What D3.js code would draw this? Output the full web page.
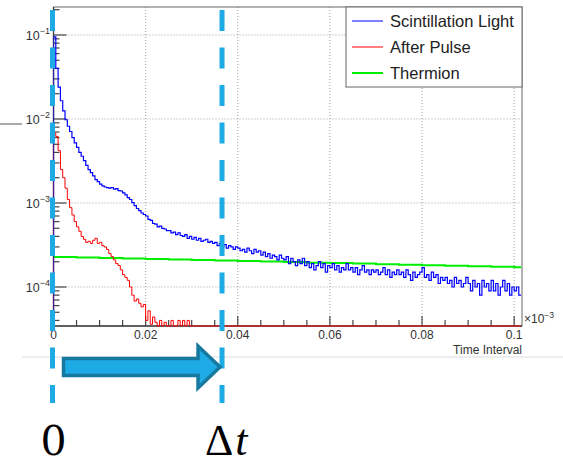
<!DOCTYPE html>
<html>
<head>
<meta charset="utf-8">
<script src="https://cdn.jsdelivr.net/npm/d3@7"></script>
<style>
  body { margin: 0; background: #fff; }
  svg { display: block; font-family: "Liberation Sans", Arial, sans-serif; }
</style>
</head>
<body>
<div id="chart"></div>
<script>
// Histogram data (bin width 0.0005, x in units of 10^-3)
const binWidth = 0.0005;

const scintillation = [
  9.5e-2, 4.0e-2, 2.4e-2, 1.65e-2, 1.25e-2, 9.8e-3, 8.2e-3, 7.1e-3, 6.0e-3, 5.2e-3,
  4.6e-3, 4.0e-3, 3.6e-3, 3.2e-3, 2.8e-3, 2.5e-3, 2.3e-3, 2.1e-3, 1.9e-3, 1.8e-3,
  1.68e-3, 1.60e-3, 1.55e-3, 1.52e-3, 1.50e-3, 1.53e-3, 1.46e-3, 1.48e-3, 1.40e-3, 1.39e-3,
  1.32e-3, 1.25e-3, 1.16e-3, 1.10e-3, 1.01e-3, 9.3e-4, 8.6e-4, 8.1e-4, 7.6e-4, 7.3e-4,
  7.0e-4, 6.4e-4, 6.2e-4, 5.7e-4, 5.6e-4, 5.2e-4, 5.3e-4, 5.0e-4, 4.9e-4, 4.7e-4,
  4.7e-4, 4.4e-4, 4.5e-4, 4.2e-4, 4.4e-4, 4.1e-4, 4.0e-4, 4.2e-4, 3.8e-4, 4.0e-4,
  3.7e-4, 3.9e-4, 3.6e-4, 3.8e-4, 3.5e-4, 3.6e-4, 3.7e-4, 3.4e-4, 3.5e-4, 3.3e-4,
  3.4e-4, 3.1e-4, 3.3e-4, 3.0e-4, 3.2e-4, 2.9e-4, 3.1e-4, 3.0e-4, 2.8e-4, 3.0e-4,
  2.9e-4, 2.7e-4, 2.8e-4, 2.6e-4, 2.9e-4, 2.7e-4, 2.5e-4, 2.8e-4, 2.6e-4, 2.7e-4,
  2.4e-4, 2.6e-4, 2.3e-4, 2.5e-4, 2.2e-4, 2.4e-4, 2.3e-4, 2.1e-4, 2.4e-4, 2.2e-4,
  2.1e-4, 2.3e-4, 1.9e-4, 2.2e-4, 2.0e-4, 1.8e-4, 2.1e-4, 1.9e-4, 2.2e-4, 1.8e-4,
  2.0e-4, 1.7e-4, 1.9e-4, 1.6e-4, 1.8e-4, 2.0e-4, 1.7e-4, 1.9e-4, 1.5e-4, 1.8e-4,
  1.7e-4, 1.9e-4, 1.6e-4, 1.8e-4, 1.5e-4, 1.7e-4, 1.6e-4, 1.9e-4, 1.6e-4, 1.7e-4,
  1.5e-4, 1.7e-4, 1.4e-4, 1.6e-4, 1.8e-4, 1.5e-4, 1.6e-4, 1.4e-4, 1.6e-4, 1.5e-4,
  1.6e-4, 1.4e-4, 1.5e-4, 1.7e-4, 1.4e-4, 1.6e-4, 1.3e-4, 1.5e-4, 1.4e-4, 1.6e-4,
  1.4e-4, 1.5e-4, 1.3e-4, 1.6e-4, 1.4e-4, 1.2e-4, 1.5e-4, 1.3e-4, 1.4e-4, 1.5e-4,
  1.7e-4, 1.3e-4, 1.4e-4, 1.2e-4, 1.5e-4, 1.3e-4, 1.4e-4, 1.1e-4, 1.3e-4, 1.2e-4,
  1.3e-4, 1.1e-4, 1.2e-4, 1.0e-4, 1.3e-4, 1.1e-4, 1.2e-4, 1.0e-4, 1.1e-4, 1.3e-4,
  1.1e-4, 9.0e-5, 1.2e-4, 1.0e-4, 1.1e-4, 8.0e-5, 1.2e-4, 1.0e-4, 1.1e-4, 9.0e-5,
  1.2e-4, 9.0e-5, 1.1e-4, 8.0e-5, 1.0e-4, 1.2e-4, 9.0e-5, 1.1e-4, 8.0e-5, 1.0e-4,
  9.0e-5, 1.0e-4, 8.0e-5
];

const afterPulse = [
  6.8e-3, 6.2e-3, 4.2e-3, 2.5e-3, 2.0e-3, 1.5e-3, 1.1e-3, 8.8e-4, 7.2e-4, 6.0e-4,
  5.2e-4, 4.6e-4, 4.0e-4, 3.7e-4, 3.4e-4, 3.5e-4, 3.3e-4, 3.6e-4, 3.8e-4, 3.3e-4,
  3.4e-4, 3.1e-4, 3.0e-4, 2.8e-4, 2.5e-4, 2.3e-4, 2.1e-4, 1.9e-4, 1.8e-4, 1.6e-4,
  1.4e-4, 1.3e-4, 1.2e-4, 1.0e-4, 8.0e-5, 6.8e-5, 7.2e-5, 6.4e-5, 5.8e-5, 6.2e-5,
  4.0e-5, 5.2e-5, 3.6e-5, 4.4e-5, 3.8e-5, 0, 4.0e-5, 0, 3.8e-5, 0,
  0, 4.0e-5, 0, 0, 4.0e-5, 0, 4.0e-5, 0, 4.0e-5, 0,
  0, 0, 0, 0, 0, 0, 0, 0, 0, 0, 0, 0, 0, 0, 0, 0, 0, 0, 0, 0,
  0, 0, 0, 0, 0, 0, 0, 0, 0, 0, 0, 0, 0, 0, 0, 0, 0, 0, 0, 0,
  0, 0, 0, 0, 0, 0, 0, 0, 0, 0, 0, 0, 0, 0, 0, 0, 0, 0, 0, 0,
  0, 0, 0, 0, 0, 0, 0, 0, 0, 0, 0, 0, 0, 0, 0, 0, 0, 0, 0, 0,
  0, 0, 0, 0, 0, 0, 0, 0, 0, 0, 0, 0, 0, 0, 0, 0, 0, 0, 0, 0,
  0, 0, 0, 0, 0, 0, 0, 0, 0, 0, 0, 0, 0, 0, 0, 0, 0, 0, 0, 0,
  0, 0, 0, 0, 0, 0, 0, 0, 0, 0, 0, 0, 0, 0, 0, 0, 0, 0, 0, 0,
  0, 0, 0
];

// thermion is smooth, coarser bins
const thermionWidth = 0.005;
const thermion = [
  2.27e-4, 2.24e-4, 2.22e-4, 2.19e-4, 2.16e-4, 2.13e-4, 2.10e-4, 2.07e-4, 2.04e-4, 2.01e-4,
  1.98e-4, 1.95e-4, 1.93e-4, 1.90e-4, 1.87e-4, 1.84e-4, 1.82e-4, 1.79e-4, 1.76e-4, 1.74e-4,
  1.72e-4
];
const thermionEnd = 0.1015;

const seriesNames = ["Scintillation Light", "After Pulse", "Thermion"];
const seriesColors = ["#0000ff", "#ff0000", "#00ee00"];

const xTicks = [0, 0.02, 0.04, 0.06, 0.08, 0.1];
const xTickLabels = ["0", "0.02", "0.04", "0.06", "0.08", "0.1"];
const yTicks = [1e-1, 1e-2, 1e-3, 1e-4];
const yTickExps = ["\u22121", "\u22122", "\u22123", "\u22124"];

// annotation: the 0 and delta-t marks
const markers = [0, 0.0368];

const width = 563, height = 469;

const svg = d3.select("#chart")
  .append("svg")
  .attr("width", width)
  .attr("height", height);

svg.append("rect").attr("width", width).attr("height", height).attr("fill", "#fff");

// slide leftovers
svg.append("line")
  .attr("x1", 0).attr("x2", 22).attr("y1", 124).attr("y2", 124)
  .attr("stroke", "#8c8c8c").attr("stroke-width", 1.5);
svg.append("line")
  .attr("x1", 22).attr("x2", width).attr("y1", 357).attr("y2", 357)
  .attr("stroke", "#dcdcdc").attr("stroke-width", 1);

// Scales
const x = d3.scaleLinear().domain([0, 0.1017]).range([53.5, 522]);
const y = d3.scaleLog().domain([3.433e-5, 0.2154]).range([326, 7]);

const [x0, x1] = x.range();
const [yB, yT] = y.range();

// Grid
const grid = svg.append("g")
  .attr("stroke", "#a0a0a0")
  .attr("stroke-dasharray", "1,2")
  .attr("stroke-width", 1);

grid.selectAll(".gx")
  .data(xTicks.filter(d => d > 0))
  .enter().append("line")
  .attr("x1", d => x(d)).attr("x2", d => x(d))
  .attr("y1", yT).attr("y2", yB);

grid.selectAll(".gy")
  .data(yTicks)
  .enter().append("line")
  .attr("x1", x0).attr("x2", x1)
  .attr("y1", d => y(d)).attr("y2", d => y(d));

// Frame
svg.append("rect")
  .attr("x", x0).attr("y", yT)
  .attr("width", x1 - x0).attr("height", yB - yT)
  .attr("fill", "none")
  .attr("stroke", "#808080")
  .attr("stroke-width", 1.2);

// Axis lines
svg.append("line")
  .attr("x1", x0).attr("x2", x0).attr("y1", yT).attr("y2", yB)
  .attr("stroke", "#444").attr("stroke-width", 1.3);
svg.append("line")
  .attr("x1", x0).attr("x2", x1).attr("y1", yB).attr("y2", yB)
  .attr("stroke", "#444").attr("stroke-width", 1.3);

// X ticks (inside, pointing up)
const xMinor = d3.range(0, 0.1016, 0.005);
svg.append("g").selectAll("line")
  .data(xMinor)
  .enter().append("line")
  .attr("x1", d => x(d)).attr("x2", d => x(d))
  .attr("y1", yB)
  .attr("y2", d => Math.abs(d / 0.02 - Math.round(d / 0.02)) < 1e-6 ? yB - 10 : yB - 6)
  .attr("stroke", "#444").attr("stroke-width", 1.2);

svg.append("g").selectAll("text")
  .data(xTicks)
  .enter().append("text")
  .attr("x", d => x(d))
  .attr("y", 339)
  .attr("text-anchor", "middle")
  .attr("font-size", 12)
  .attr("fill", "#333")
  .text((d, i) => xTickLabels[i]);

// Y ticks (log, inside)
const yMinor = [];
[1e-5, 1e-4, 1e-3, 1e-2, 1e-1].forEach(dec => {
  for (let k = 2; k <= 9; k++) {
    const v = k * dec;
    if (v > y.domain()[0] && v < y.domain()[1]) yMinor.push(v);
  }
});
svg.append("g").selectAll("line")
  .data(yMinor)
  .enter().append("line")
  .attr("x1", x0).attr("x2", x0 + 6)
  .attr("y1", d => y(d)).attr("y2", d => y(d))
  .attr("stroke", "#444").attr("stroke-width", 1.2);
svg.append("g").selectAll("line")
  .data(yTicks)
  .enter().append("line")
  .attr("x1", x0).attr("x2", x0 + 13)
  .attr("y1", d => y(d)).attr("y2", d => y(d))
  .attr("stroke", "#444").attr("stroke-width", 1.2);

const yLab = svg.append("g").selectAll("text")
  .data(yTicks)
  .enter().append("text")
  .attr("x", 50)
  .attr("y", d => y(d) + 5)
  .attr("text-anchor", "end")
  .attr("fill", "#333");
yLab.append("tspan").attr("font-size", 12.5).text("10");
yLab.append("tspan").attr("font-size", 9).attr("dy", -6).text((d, i) => yTickExps[i]);

// x10^-3 and axis title
const mult = svg.append("text")
  .attr("x", 524).attr("y", 323)
  .attr("fill", "#333");
mult.append("tspan").attr("font-size", 12).text("\u00d710");
mult.append("tspan").attr("font-size", 8.5).attr("dy", -5).text("\u22123");

svg.append("text")
  .attr("x", 522).attr("y", 354)
  .attr("text-anchor", "end")
  .attr("font-size", 12)
  .attr("fill", "#333")
  .text("Time Interval");

// Histograms
svg.append("clipPath").attr("id", "frame")
  .append("rect")
  .attr("x", x0).attr("y", yT)
  .attr("width", x1 - x0).attr("height", yB - yT + 1);

const yClamp = v => v > 0 ? y(Math.max(v, y.domain()[0])) : yB;

const stepLine = d3.line()
  .x(d => x(d[0]))
  .y(d => yClamp(d[1]))
  .curve(d3.curveStepAfter);

function histPoints(vals, w, endX, fromFloor) {
  const pts = vals.map((v, i) => [i * w, v]);
  pts.push([endX, vals[vals.length - 1]]);
  if (fromFloor) pts.unshift([0, 0]);
  return pts;
}

const plot = svg.append("g").attr("clip-path", "url(#frame)");

plot.append("path")
  .attr("d", stepLine(histPoints(thermion, thermionWidth, thermionEnd, false)))
  .attr("fill", "none")
  .attr("stroke", seriesColors[2])
  .attr("stroke-width", 2);

plot.append("path")
  .attr("d", stepLine(histPoints(afterPulse, binWidth, afterPulse.length * binWidth, true)))
  .attr("fill", "none")
  .attr("stroke", seriesColors[1])
  .attr("stroke-width", 1);

plot.append("path")
  .attr("d", stepLine(histPoints(scintillation, binWidth, scintillation.length * binWidth, true)))
  .attr("fill", "none")
  .attr("stroke", seriesColors[0])
  .attr("stroke-width", 1.2);

// Legend
const legend = svg.append("g");
legend.append("rect")
  .attr("x", 346).attr("y", 7)
  .attr("width", 176).attr("height", 80)
  .attr("fill", "#fff")
  .attr("stroke", "#666")
  .attr("stroke-width", 1);

const items = legend.selectAll(".item")
  .data(seriesNames)
  .enter().append("g")
  .attr("transform", (d, i) => `translate(0, ${21 + i * 26})`);
items.append("line")
  .attr("x1", 352).attr("x2", 383)
  .attr("stroke", (d, i) => seriesColors[i])
  .attr("stroke-width", (d, i) => i === 2 ? 2 : 1);
items.append("text")
  .attr("x", 390).attr("y", 6)
  .attr("font-size", 16.5)
  .attr("fill", "#222")
  .text(d => d);

// Annotation: dashed markers, arrow and labels
const markColor = "#1eaae4";
svg.append("g").selectAll("line")
  .data(markers)
  .enter().append("line")
  .attr("x1", d => x(d) - 1).attr("x2", d => x(d) - 1)
  .attr("y1", 10).attr("y2", 403)
  .attr("stroke", markColor)
  .attr("stroke-width", 5)
  .attr("stroke-dasharray", "21,16.5");

const ax0 = x(markers[0]) + 10, ax1 = x(markers[1]) - 3, ay = 367;
svg.append("path")
  .attr("d", `M${ax0},${ay - 8.5} H${ax1 - 22} V${ay - 21} L${ax1},${ay} L${ax1 - 22},${ay + 21} V${ay + 8.5} H${ax0} Z`)
  .attr("fill", markColor)
  .attr("stroke", "#17799f")
  .attr("stroke-width", 3.5)
  .attr("stroke-linejoin", "miter");

svg.append("text")
  .attr("x", x(markers[0]))
  .attr("y", 455)
  .attr("text-anchor", "middle")
  .attr("font-family", "'DejaVu Serif', serif")
  .attr("font-size", 41)
  .attr("fill", "#000")
  .text("0");

const dt = svg.append("text")
  .attr("x", x(markers[1]) - 18)
  .attr("y", 455)
  .attr("font-family", "'Liberation Serif', serif")
  .attr("font-size", 44)
  .attr("fill", "#000");
dt.append("tspan").text("\u0394");
dt.append("tspan").attr("font-style", "italic").attr("dx", 2).text("t");
</script>
</body>
</html>
